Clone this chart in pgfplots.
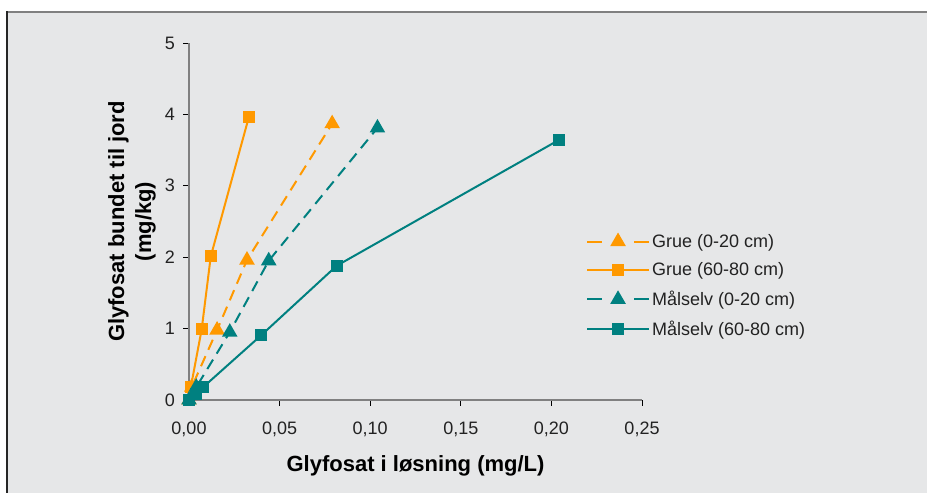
\documentclass[border=0pt]{standalone}
\usepackage{pgfplots}
\pgfplotsset{compat=1.18}
\usepackage{fontspec}
\setmainfont{Liberation Sans}
\definecolor{bggray}{HTML}{E6E7E8}
\definecolor{cOrange}{HTML}{FF9900}
\definecolor{cTeal}{HTML}{008080}
\definecolor{txt}{HTML}{222222}
\newcommand{\bigf}{\fontsize{18bp}{21bp}\selectfont}
\newcommand{\labf}{\fontsize{22bp}{27bp}\selectfont\bfseries}
\begin{document}
\begin{tikzpicture}[x=1bp,y=1bp]
\path[use as bounding box, fill=white] (0,0) rectangle (927,493);
\fill[bggray] (7,0) rectangle (927,481);
\draw[line width=1.5bp, gray] (7,481) -- (927,481);
\draw[line width=1.5bp, black!85] (7,0) -- (7,481.75);
\begin{axis}[
  at={(189bp,93bp)}, anchor=south west,
  scale only axis, width=453bp, height=357bp,
  xmin=0, xmax=0.25, ymin=0, ymax=5,
  xtick={0,0.05,0.1,0.15,0.2,0.25}, ytick={0,1,2,3,4,5},
  xticklabels={{\bigf 0,00},{\bigf 0,05},{\bigf 0,10},{\bigf 0,15},{\bigf 0,20},{\bigf 0,25}},
  yticklabels={{\bigf 0},{\bigf 1},{\bigf 2},{\bigf 3},{\bigf 4},{\bigf 5}},
  axis lines=left,
  axis line style={-, line width=2bp, black!50},
  tick align=outside, major tick length=6bp,
  tick style={black, line width=0.8bp},
  tick label style={font=\bigf, text=txt, inner sep=0pt},
  xticklabel style={anchor=north, yshift=-15.5bp},
  yticklabel style={anchor=east, xshift=-8bp},
  xlabel={Glyfosat i løsning (mg/L)},
  ylabel={Glyfosat bundet til jord\\(mg/kg)},
  xlabel style={font=\labf, text=black, inner sep=0pt, at={(axis description cs:0.5,-0.1555)}, anchor=north},
  ylabel style={font=\labf, text=black, align=center, inner sep=0pt, at={(axis description cs:-0.0729,0.5)}, anchor=south},
  legend style={draw=none, fill=none, font=\bigf, text=txt, at={(axis description cs:0.876,0.476)}, anchor=north west, row sep=10bp, inner xsep=0pt, cells={anchor=west}},
  legend image code/.code={\draw[mark repeat=2,mark phase=2,#1] plot coordinates {(0bp,0bp) (31bp,0bp) (62bp,0bp)};},
  every axis plot/.append style={line width=2bp},
]
\addplot[cOrange, dash pattern=on 11bp off 7bp, mark=triangle*, mark size=7bp, mark options={solid},
  legend image post style={dash pattern=on 15bp off 32bp}] coordinates {
 (0,0) (0.0015,0.18) (0.0155,0.98) (0.032,1.96) (0.079,3.87)};
\addlegendentry{Grue (0-20 cm)}
\addplot[cOrange, mark=square*, mark size=5bp] coordinates {
 (0,0) (0.001,0.18) (0.007,0.99) (0.012,2.01) (0.033,3.96)};
\addlegendentry{Grue (60-80 cm)}
\addplot[cTeal, dash pattern=on 11bp off 7bp, mark=triangle*, mark size=7bp, mark options={solid},
  legend image post style={dash pattern=on 15bp off 32bp}] coordinates {
 (0,0) (0.004,0.18) (0.0225,0.95) (0.044,1.95) (0.104,3.81)};
\addlegendentry{Målselv (0-20 cm)}
\addplot[cTeal, mark=square*, mark size=5bp] coordinates {
 (0,0) (0.004,0.09) (0.0078,0.18) (0.040,0.91) (0.0815,1.88) (0.204,3.64)};
\addlegendentry{Målselv (60-80 cm)}
\end{axis}
\end{tikzpicture}
\end{document}
